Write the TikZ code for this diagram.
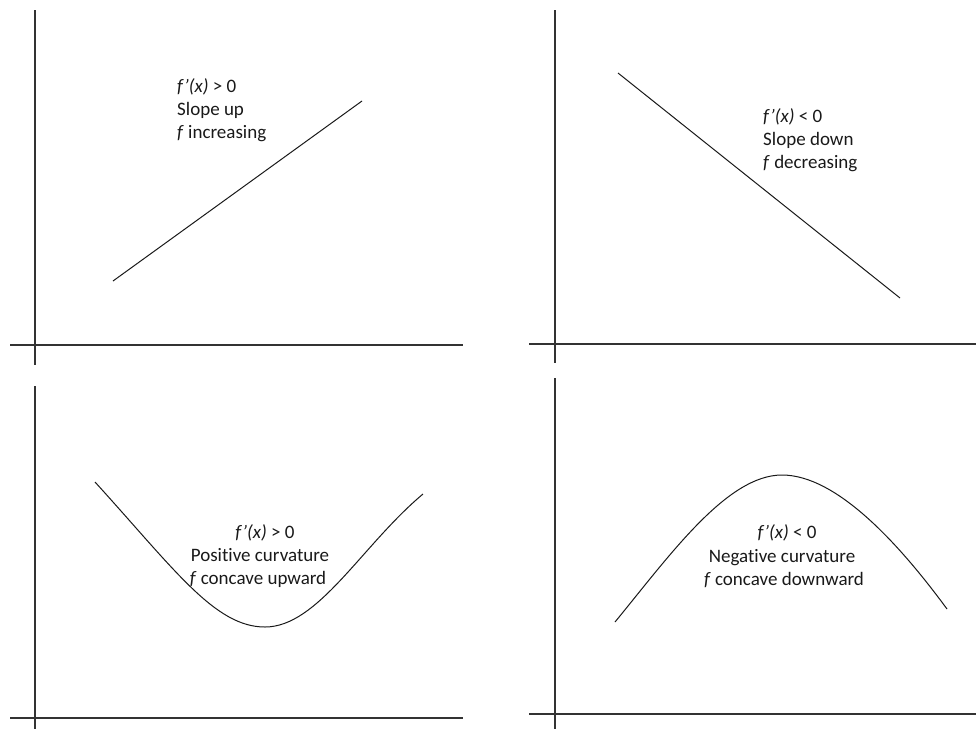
\documentclass[tikz,border=0pt]{standalone}
\usepackage{fontspec}
\setmainfont[Ligatures=NoCommon]{Carlito}
\tikzset{
  axis/.style={line width=1.3pt, draw=black!80},
  graph/.style={line width=1pt, draw=black!90},
  lbl/.style={inner sep=0pt, font=\fontsize{19}{23}\selectfont, text=black!90},
}
\begin{document}
\begin{tikzpicture}[x=1pt,y=-1pt]
\useasboundingbox (0,0) rectangle (976,729);
% axes coordinates
\coordinate (a1t) at (35,10);  \coordinate (a1b) at (35,365);
\coordinate (a1l) at (10,345); \coordinate (a1r) at (463,345);
\coordinate (a2t) at (555,10);  \coordinate (a2b) at (555,363);
\coordinate (a2l) at (529,344); \coordinate (a2r) at (976,344);
\coordinate (a3t) at (35,386);  \coordinate (a3b) at (35,729);
\coordinate (a3l) at (10,718); \coordinate (a3r) at (463,718);
\coordinate (a4t) at (555,378);  \coordinate (a4b) at (555,729);
\coordinate (a4l) at (529,714); \coordinate (a4r) at (976,714);
\draw[axis] (a1t) -- (a1b); \draw[axis] (a1l) -- (a1r);
\draw[axis] (a2t) -- (a2b); \draw[axis] (a2l) -- (a2r);
\draw[axis] (a3t) -- (a3b); \draw[axis] (a3l) -- (a3r);
\draw[axis] (a4t) -- (a4b); \draw[axis] (a4l) -- (a4r);
% graphs
\coordinate (l1s) at (113,281); \coordinate (l1e) at (362,101);
\draw[graph] (l1s) -- (l1e);
\coordinate (l2s) at (618,73); \coordinate (l2e) at (900,298);
\draw[graph] (l2s) -- (l2e);
\coordinate (c3s) at (95,482); \coordinate (c3m) at (265,627); \coordinate (c3e) at (423,494);
\draw[graph] (c3s) .. controls (175,570) and (215,627) .. (c3m)
                   .. controls (318,627) and (362,545) .. (c3e);
\coordinate (c4s) at (615,622); \coordinate (c4m) at (782,475); \coordinate (c4e) at (947,609);
\draw[graph] (c4s) .. controls (670,555) and (727,475) .. (c4m)
                   .. controls (837,475) and (900,545) .. (c4e);
% labels panel 1
\node[lbl, anchor=base west] (t1a) at (177,92) {\textit{f’(x)} > 0};
\node[lbl, anchor=base west] (t1b) at (177,115) {Slope up};
\node[lbl, anchor=base west] (t1c) at (177,138) {\textit{f} increasing};
% labels panel 2
\node[lbl, anchor=base west] (t2a) at (763,122) {\textit{f’(x)} < 0};
\node[lbl, anchor=base west] (t2b) at (763,145) {Slope down};
\node[lbl, anchor=base west] (t2c) at (763,168) {\textit{f} decreasing};
% labels panel 3
\node[lbl, anchor=base] (t3a) at (265,538) {\textit{f’(x)} > 0};
\node[lbl, anchor=base] (t3b) at (260,561) {Positive curvature};
\node[lbl, anchor=base] (t3c) at (258,584) {\textit{f} concave upward};
% labels panel 4
\node[lbl, anchor=base] (t4a) at (787,538) {\textit{f’(x)} < 0};
\node[lbl, anchor=base] (t4b) at (782,562) {Negative curvature};
\node[lbl, anchor=base] (t4c) at (784,585) {\textit{f} concave downward};
\end{tikzpicture}
\end{document}
